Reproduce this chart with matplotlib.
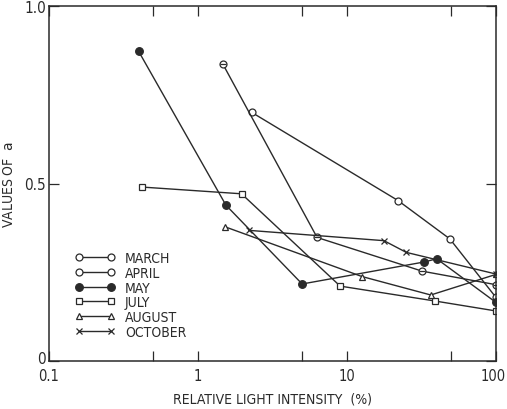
import matplotlib
matplotlib.use("Agg")
import matplotlib.pyplot as plt
from matplotlib.lines import Line2D
from matplotlib.transforms import ScaledTranslation

# values (x = relative light intensity %, y = value of a)
march_x = [2.3, 22, 49, 100]
march_y = [0.70, 0.452, 0.344, 0.179]

april_x = [1.47, 6.3, 32, 100]
april_y = [0.836, 0.348, 0.253, 0.215]

may_x = [0.4, 1.54, 5.0, 33, 40, 100]
may_y = [0.872, 0.439, 0.217, 0.279, 0.288, 0.165]

july_x = [0.42, 1.96, 9.0, 39, 100]
july_y = [0.49, 0.471, 0.211, 0.169, 0.141]

august_x = [1.52, 12.6, 36.5, 100]
august_y = [0.378, 0.238, 0.186, 0.244]

october_x = [2.2, 17.7, 25, 100]
october_y = [0.368, 0.339, 0.306, 0.245]

names = ["MARCH", "APRIL", "MAY", "JULY", "AUGUST", "OCTOBER"]
x_ticks = [0.1, 0.5, 1, 5, 10, 50, 100]
x_ticklabels = ["0.1", "", "1", "", "10", "", "100"]
y_ticks = [0, 0.5, 1.0]
y_ticklabels = ["0", "0.5", "1.0"]

fam = ["DejaVu Sans", "DejaVu Sans"]
ink = "#2a2a2a"
font = dict(family=fam, color=ink, stretch="condensed")

fig = plt.figure(figsize=(5.07, 4.10), dpi=100)
ax = fig.add_axes([0.0966, 0.117, 0.8817, 0.866])

common = dict(color=ink, lw=1.0, ms=5, mew=0.9)
series = [
    (march_x, march_y, dict(marker="o", mfc="white")),
    (april_x, april_y, dict(marker="o", mfc="white")),
    (may_x, may_y, dict(marker="o", mfc=ink, ms=5.5)),
    (july_x, july_y, dict(marker="s", mfc="white", ms=4.5)),
    (august_x, august_y, dict(marker="^", mfc="white", ms=4.5)),
    (october_x, october_y, dict(marker="x", ms=4.5)),
]
handles = []
for (xs, ys, style), name in zip(series, names):
    kw = dict(common)
    kw.update(style)
    ax.plot(xs, ys, **kw)
    handles.append(Line2D([], [], **kw))
    if name == "APRIL":
        # bar through the circle
        ax.plot(xs, ys, ls="none", marker="_", ms=5, mew=0.9, color=ink)

ax.set_xscale("log")
ax.set_xlim(0.1, 100)
ax.set_ylim(0, 1.0)

ax.set_xticks(x_ticks)
ax.set_xticklabels(x_ticklabels, **font, fontsize=10.5)
ax.minorticks_off()
ax.set_yticks(y_ticks)
ax.set_yticklabels(y_ticklabels, **font, fontsize=11)
ax.tick_params(direction="in", length=7, width=0.9, color=ink, top=True, right=True,
               pad=5)
ax.tick_params(axis="y", pad=2)
for s in ax.spines.values():
    s.set_color(ink)
    s.set_linewidth(1.1)

# nudge the corner labels so they sit like the original
lab = ax.get_xticklabels()[-1]
lab.set_transform(lab.get_transform() + ScaledTranslation(-3 / 100, 0, fig.dpi_scale_trans))
lab0 = ax.get_yticklabels()[0]
lab0.set_transform(lab0.get_transform() + ScaledTranslation(0, 4 / 100, fig.dpi_scale_trans))

ax.set_xlabel("RELATIVE LIGHT INTENSITY  (%)", **font, fontsize=10, labelpad=6)
ax.set_ylabel("VALUES OF  $\\mathsf{a}$", **font, fontsize=10, labelpad=6)

leg = ax.legend(handles, names, loc="lower left", bbox_to_anchor=(0.03, 0.028),
                numpoints=2, handlelength=2.9, handletextpad=0.7, labelspacing=0.05,
                frameon=False, prop=dict(family=fam, size=10, stretch="condensed"))
for t in leg.get_texts():
    t.set_color(ink)

fig.savefig("out.png", dpi=100)
